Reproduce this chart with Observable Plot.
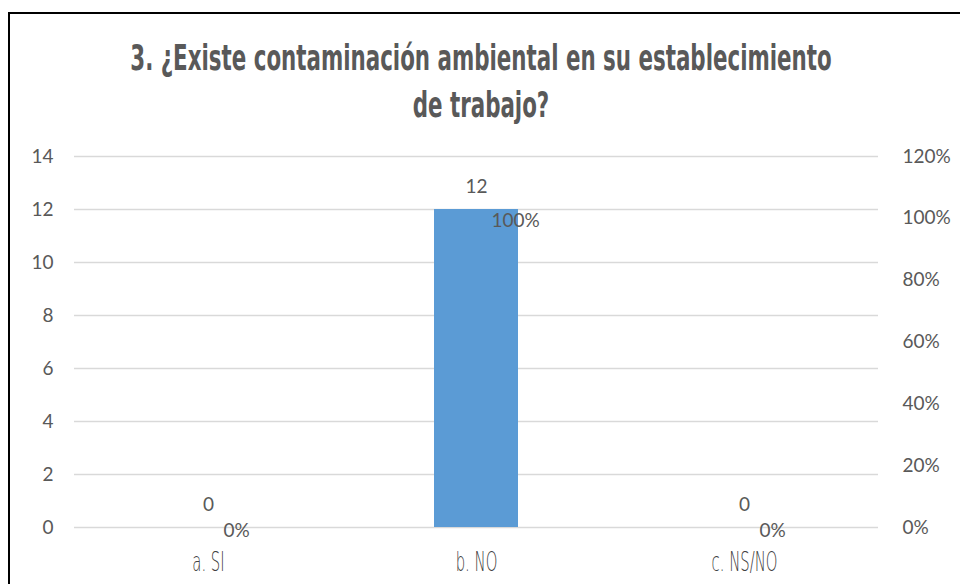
<!DOCTYPE html>
<html><head><meta charset="utf-8">
<script src="https://cdn.jsdelivr.net/npm/d3@7"></script>
<script src="https://cdn.jsdelivr.net/npm/@observablehq/plot@0.6"></script>
<style>
body{margin:0;background:#fff;width:960px;height:584px;overflow:hidden;position:relative;font-family:Lato,"Open Sans",sans-serif;}
#frame{position:absolute;left:8px;top:12px;width:980px;height:620px;border:2px solid #000;box-sizing:border-box;}
#title{position:absolute;left:-239px;top:34px;width:1440px;text-align:center;color:#595959;font-family:"DejaVu Sans Condensed","DejaVu Sans",sans-serif;font-weight:bold;font-size:36px;line-height:47px;transform:scaleX(0.66);transform-origin:720px 0;white-space:nowrap;}
#chart{position:absolute;left:0;top:130px;}
</style></head><body>
<div id="frame"></div>
<div id="title">3. ¿Existe contaminación ambiental en su establecimiento<br>de trabajo?</div>
<div id="chart"></div>
<script>
const categories = ["a. SI", "b. NO", "c. NS/NO"];
const counts = [0, 12, 0];
const percents = [0, 1, 0];
const leftTicks = [0, 2, 4, 6, 8, 10, 12, 14];
const rightTicks = [0, 0.2, 0.4, 0.6, 0.8, 1.0, 1.2];

const yMax = 14, pMax = 1.2;
const toY = p => p * yMax / pMax;
const data = categories.map((c, i) => ({cat: c, n: counts[i], p: percents[i]}));
const gray = "#595959";

const plot = Plot.plot({
  width: 960,
  height: 454,
  marginTop: 26,
  marginBottom: 57,
  marginLeft: 74,
  marginRight: 82,
  style: {fontFamily: "Lato, 'Open Sans', sans-serif", fontSize: "19px", color: gray, background: "transparent", overflow: "visible"},
  x: {domain: categories, padding: 0, label: null},
  y: {domain: [0, yMax], label: null},
  marks: [
    Plot.gridY(leftTicks, {stroke: "#d9d9d9", strokeOpacity: 1, strokeWidth: 1.5}),
    Plot.axisY({ticks: leftTicks, tickSize: 0, tickPadding: 21, label: null, fill: gray, fontSize: 19}),
    Plot.axisY({anchor: "right", ticks: rightTicks.map(toY), tickSize: 0, tickPadding: 24, textAnchor: "start",
      tickFormat: v => Math.round(v * pMax / yMax * 100) + "%", label: null, fill: gray, fontSize: 19}),
    Plot.barY(data, {x: "cat", y: "n", fill: "#5b9bd5", insetLeft: 92, insetRight: 92}),
    Plot.text(data, {x: "cat", y: "n", text: d => String(d.n), dy: -23, fill: gray, fontSize: 19}),
    Plot.text(data, {x: "cat", y: d => toY(d.p), text: d => Math.round(d.p * 100) + "%", textAnchor: "start", dx: 15, dy: 3, fill: gray, fontSize: 19}),
    Plot.axisX({tickSize: 0, tickPadding: 24, label: null, fill: "#404040",
      fontFamily: "'DejaVu Sans', sans-serif", fontWeight: 200, fontSize: 27})
  ]
});
document.getElementById("chart").appendChild(plot);

// condense x tick labels horizontally (the original uses a narrow display face)
d3.select(plot).selectAll('g[aria-label="x-axis tick label"] text').each(function() {
  const t = d3.select(this);
  const tr = t.attr("transform");
  if (tr) {
    t.attr("transform", tr + " scale(0.55,1)");
  } else {
    const x = +t.attr("x") || 0, y = +t.attr("y") || 0;
    t.attr("x", null).attr("y", null).attr("transform", `translate(${x},${y}) scale(0.55,1)`);
  }
});
</script>
</body></html>
